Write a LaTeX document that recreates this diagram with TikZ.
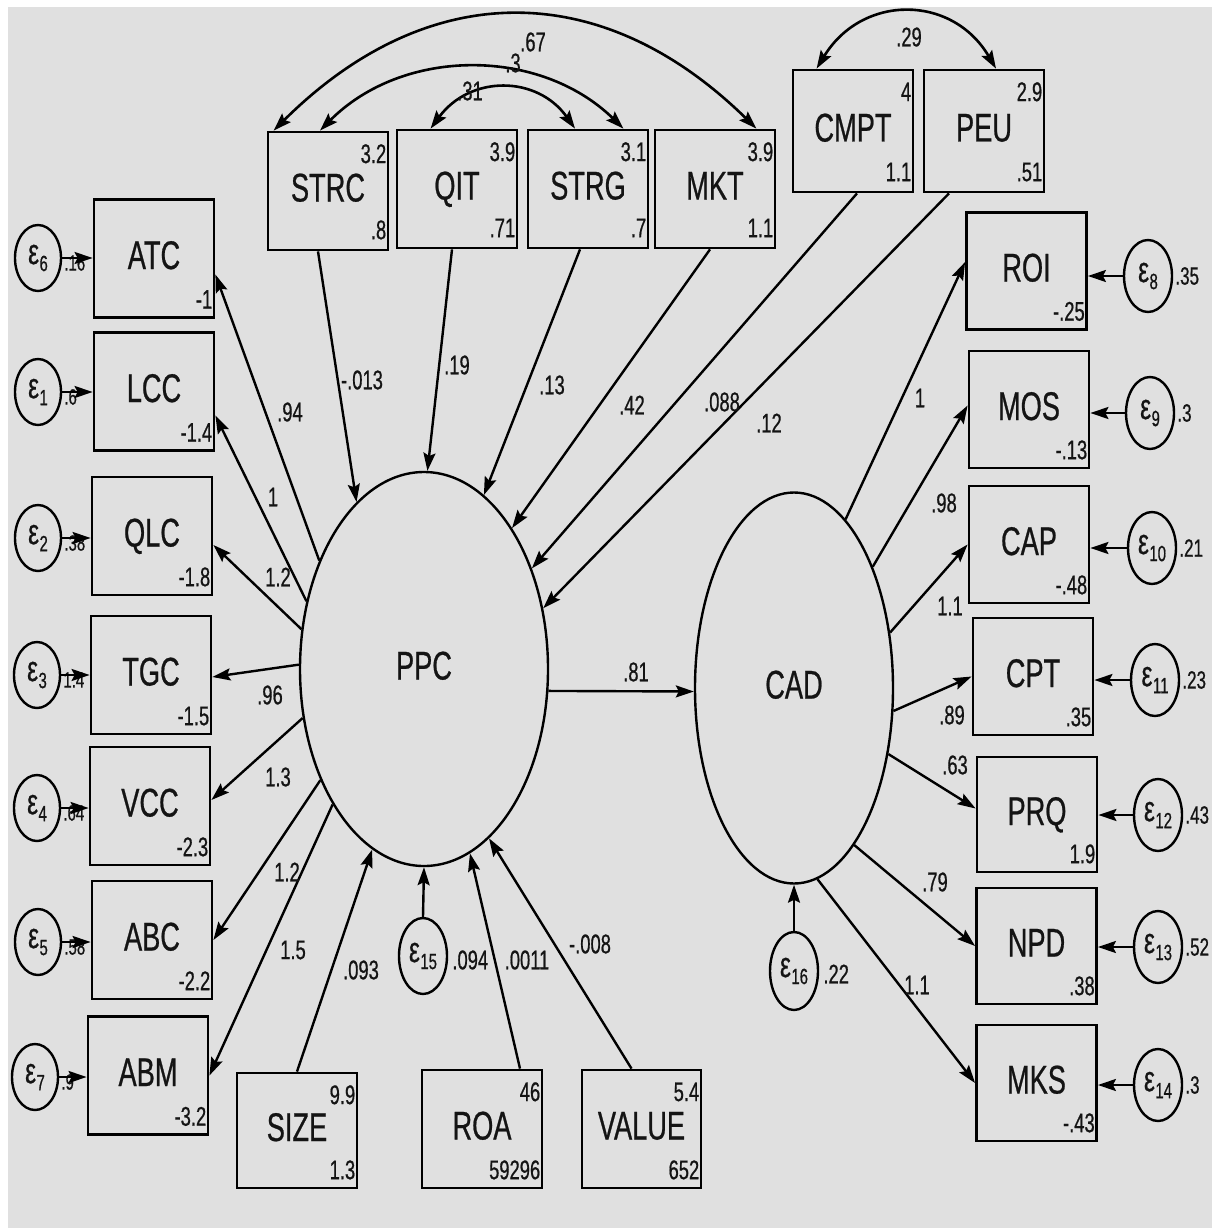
\documentclass[tikz,border=0pt]{standalone}
\usepackage{fontspec}
\setmainfont[FakeStretch=0.68,FakeBold=0.6]{Liberation Sans}
\usetikzlibrary{shapes.geometric,arrows.meta,calc}
\definecolor{bgray}{RGB}{224,224,224}
\definecolor{ink}{RGB}{20,20,20}
\newcommand\epsn[1]{ε\kern0.5pt\raisebox{-7pt}{\fontsize{22}{22}\selectfont #1}}
\begin{document}
\begin{tikzpicture}[x=1pt,y=-1pt,
 every node/.style={text=ink},
 obs/.style={draw=black, line width=2.8pt, rectangle, minimum width=120pt, minimum height=118pt, inner sep=0pt, font=\fontsize{40}{40}\selectfont, text height=29pt, text depth=8pt},
 lat/.style={draw=black, line width=2.4pt, ellipse, inner sep=0pt, font=\fontsize{40}{40}\selectfont, text height=29pt, text depth=8pt},
 err/.style={draw=black, line width=2.4pt, ellipse, minimum width=48pt, minimum height=72pt, inner sep=0pt, font=\fontsize{36}{36}\selectfont},
 num/.style={inner sep=0pt, font=\fontsize{27}{27}\selectfont, text height=19.3pt, text depth=0pt},
 lbl/.style={inner sep=0pt, font=\fontsize{27}{27}\selectfont},
 arr/.style={draw=black, line width=2.4pt, -{Stealth[length=18pt,width=12pt,inset=3pt]}},
 dbl/.style={draw=black, line width=2.6pt, {Stealth[length=18pt,width=12pt,inset=3pt]}-{Stealth[length=18pt,width=12pt,inset=3pt]}},
]
\useasboundingbox (0,0) rectangle (1212,1228);
\fill[white] (0,0) rectangle (1212,1228);
\fill[bgray] (8,7) rectangle (1212,1228);

% latent variables
\node[lat, minimum width=248pt, minimum height=394pt] (PPC) at (424,669) {PPC};
\node[lat, minimum width=198pt, minimum height=391pt] (CAD) at (794,688) {CAD};

% top boxes
\node[obs] (STRC) at (328,191) {STRC};
\node[obs] (QIT) at (457,189) {QIT};
\node[obs] (STRG) at (588,189) {STRG};
\node[obs] (MKT) at (715,189) {MKT};
\node[obs, minimum height=122pt] (CMPT) at (853,131) {CMPT};
\node[obs, minimum height=122pt] (PEU) at (984,131) {PEU};
\foreach \n/\a/\b in {STRC/3.2/.8, QIT/3.9/.71, STRG/3.1/.7, MKT/3.9/1.1, CMPT/4/1.1, PEU/2.9/.51}{
  \node[num, anchor=north east] (\n m) at ($(\n.north east)+(-3,13)$) {\a};
  \node[num, anchor=south east] (\n v) at ($(\n.south east)+(-3,-12)$) {\b};
}

% left boxes
\node[obs] (ATC) at (154,258.5) {ATC};
\node[obs] (LCC) at (154,391.5) {LCC};
\node[obs] (QLC) at (152,536) {QLC};
\node[obs] (TGC) at (151,675) {TGC};
\node[obs] (VCC) at (150,806) {VCC};
\node[obs] (ABC) at (152,940) {ABC};
\node[obs] (ABM) at (148,1075.5) {ABM};
\foreach \n/\b in {ATC/-1, LCC/-1.4, QLC/-1.8, TGC/-1.5, VCC/-2.3, ABC/-2.2, ABM/-3.2}{
  \node[num, anchor=south east] (\n v) at ($(\n.south east)+(-3,-10)$) {\b};
}

% right boxes
\node[obs, minimum height=117pt] (ROI) at (1026.5,271) {ROI};
\node[obs, minimum height=117pt] (MOS) at (1029,409.5) {MOS};
\node[obs, minimum height=117pt] (CAP) at (1029,544.5) {CAP};
\node[obs, minimum height=117pt] (CPT) at (1033,676.5) {CPT};
\node[obs, minimum height=115pt] (PRQ) at (1037,814.5) {PRQ};
\node[obs, minimum height=116pt] (NPD) at (1036.5,946) {NPD};
\node[obs, minimum height=116pt] (MKS) at (1036.5,1083) {MKS};
\foreach \n/\b in {ROI/-.25, MOS/-.13, CAP/-.48, CPT/.35, PRQ/1.9, NPD/.38, MKS/-.43}{
  \node[num, anchor=south east] (\n v) at ($(\n.south east)+(-3,-10)$) {\b};
}

% bottom boxes
\node[obs, minimum height=115pt] (SIZE) at (297,1130.5) {SIZE};
\node[obs] (ROA) at (482,1129) {ROA};
\node[obs, minimum width=119pt] (VALUE) at (641.5,1129) {VALUE};
\foreach \n/\a/\b in {SIZE/9.9/1.3, ROA/46/59296, VALUE/5.4/652}{
  \node[num, anchor=north east] (\n m) at ($(\n.north east)+(-3,13)$) {\a};
  \node[num, anchor=south east] (\n v) at ($(\n.south east)+(-3,-10)$) {\b};
}

% error terms left
\node[err, minimum width=46pt, minimum height=66pt] (e6) at (38,258) {\epsn{6}};
\node[err, minimum width=46pt, minimum height=66pt] (e1) at (38,392) {\epsn{1}};
\node[err, minimum width=46pt, minimum height=66pt] (e2) at (38,538) {\epsn{2}};
\node[err, minimum width=46pt, minimum height=66pt] (e3) at (37,675) {\epsn{3}};
\node[err, minimum width=46pt, minimum height=66pt] (e4) at (37,808) {\epsn{4}};
\node[err, minimum width=46pt, minimum height=66pt] (e5) at (38,942) {\epsn{5}};
\node[err, minimum width=46pt, minimum height=66pt] (e7) at (35,1077) {\epsn{7}};
\foreach \e/\v in {e6/.16, e1/.6, e2/.38, e3/1.4, e4/.64, e5/.58, e7/.9}{
  \node[lbl, anchor=west, font=\fontsize{22}{22}\selectfont] (\e l) at ($(\e.east)+(2,5)$) {\v};
}

% error terms right
\node[err] (e8) at (1148,276) {\epsn{8}};
\node[err] (e9) at (1150,413) {\epsn{9}};
\node[err] (e10) at (1152,548) {\epsn{10}};
\node[err] (e11) at (1155,680) {\epsn{11}};
\node[err] (e12) at (1158,815) {\epsn{12}};
\node[err] (e13) at (1158,947) {\epsn{13}};
\node[err] (e14) at (1158,1085) {\epsn{14}};
\foreach \e/\v in {e8/.35, e9/.3, e10/.21, e11/.23, e12/.43, e13/.52, e14/.3}{
  \node[lbl, anchor=west, font=\fontsize{25}{25}\selectfont] (\e l) at ($(\e.east)+(2,0)$) {\v};
}

% structural errors
\node[err, minimum height=76pt] (e15) at (423,956) {\epsn{15}};
\node[err, minimum height=78pt] (e16) at (794,971) {\epsn{16}};
\node[lbl, anchor=west] (e15l) at ($(e15.east)+(4,4)$) {.094};
\node[lbl, anchor=west] (e16l) at ($(e16.east)+(4,3)$) {.22};

% error arrows
\foreach \e/\b in {e6/ATC, e1/LCC, e2/QLC, e3/TGC, e4/VCC, e5/ABC, e7/ABM}{
  \draw[arr] (\e.east) -- (\b.west |- \e.east);
}
\foreach \e/\b in {e8/ROI, e9/MOS, e10/CAP, e11/CPT, e12/PRQ, e13/NPD, e14/MKS}{
  \draw[arr] (\e.west) -- (\b.east |- \e.west);
}
\draw[arr] (e15.north) -- (PPC.270);
\draw[arr] (e16.north) -- (CAD.270);

% PPC loadings (left)
\draw[arr] (PPC.134) -- ($(ATC.east)+(0,16)$);
\draw[arr] (PPC.150) -- ($(LCC.east)+(0,24)$);
\draw[arr] (PPC.162) -- ($(QLC.east)+(0,9)$);
\draw[arr] (PPC.178) -- ($(TGC.east)+(0,2)$);
\draw[arr] (PPC.202) -- ($(VCC.east)+(0,-6)$);
\draw[arr] (PPC.227) -- (ABC.east);
\draw[arr] (PPC.236) -- (ABM.east);
\node[lbl] (l94) at (290,412) {.94};
\node[lbl] (l1a) at (273,497) {1};
\node[lbl] (l12a) at (278,577) {1.2};
\node[lbl] (l96) at (270,695) {.96};
\node[lbl] (l13) at (278,777) {1.3};
\node[lbl] (l12b) at (287,872) {1.2};
\node[lbl] (l15) at (293,950) {1.5};

% top predictors
\draw[arr] ($(STRC.south)+(-10,0)$) -- (PPC.112);
\draw[arr] ($(QIT.south)+(-5,0)$) -- (PPC.89);
\draw[arr] ($(STRG.south)+(-8,0)$) -- (PPC.71);
\draw[arr] ($(MKT.south)+(-5,0)$) -- (PPC.58);
\draw[arr] ($(CMPT.south)+(4,0)$) -- (PPC.43);
\draw[arr] ($(PEU.south)+(-35,0)$) -- (PPC.27);
\node[lbl] (l013) at (362,380) {-.013};
\node[lbl] (l19) at (457,365) {.19};
\node[lbl] (l13b) at (552,385) {.13};
\node[lbl] (l42) at (632,405) {.42};
\node[lbl] (l088) at (722,402) {.088};
\node[lbl] (l12c) at (769,423) {.12};

% bottom predictors
\draw[arr] (SIZE.north) -- (PPC.254);
\draw[arr] ($(ROA.north)+(38,0)$) -- (PPC.284);
\draw[arr] ($(VALUE.north)+(-10,0)$) -- (PPC.291);
\node[lbl] (l093) at (361,970) {.093};
\node[lbl] (l0011) at (527,960) {.0011};
\node[lbl] (l008) at (590,944) {-.008};

% PPC -> CAD
\draw[arr] (PPC.350) -- (CAD.182);
\node[lbl] (l81) at (636,672) {.81};

% CAD loadings
\draw[arr] (CAD.73) -- ($(ROI.west)+(0,-9)$);
\draw[arr] (CAD.57) -- ($(MOS.west)+(0,-4)$);
\draw[arr] (CAD.30) -- (CAP.west);
\draw[arr] (CAD.347) -- (CPT.west);
\draw[arr] (CAD.325) -- ($(PRQ.west)+(0,-6)$);
\draw[arr] (CAD.291) -- (NPD.west);
\draw[arr] (CAD.277) -- (MKS.west);
\node[lbl] (l1b) at (920,398) {1};
\node[lbl] (l98) at (944,503) {.98};
\node[lbl] (l11a) at (950,606) {1.1};
\node[lbl] (l89) at (952,715) {.89};
\node[lbl] (l63) at (955,765) {.63};
\node[lbl] (l79) at (935,882) {.79};
\node[lbl] (l11b) at (917,985) {1.1};

% covariances
\draw[dbl] ($(STRC.north west)+(7,0)$) .. controls (428,-23) and (602,-23) .. ($(MKT.north east)+(-20,0)$);
\draw[dbl] ($(STRC.north)+(-8,0)$) .. controls (403,47) and (540,47) .. ($(STRG.north east)+(-26,0)$);
\draw[dbl] ($(QIT.north west)+(35,0)$) .. controls (470,75) and (537,75) .. ($(STRG.north)+(-13,0)$);
\draw[dbl] ($(CMPT.north west)+(25,0)$) .. controls (862,-6) and (952,-6) .. ($(PEU.north)+(12,0)$);
\node[lbl] (l67) at (533,42) {.67};
\node[lbl] (l3) at (513,63) {.3};
\node[lbl] (l31) at (470,91) {.31};
\node[lbl] (l29) at (909,37) {.29};
\end{tikzpicture}
\end{document}
